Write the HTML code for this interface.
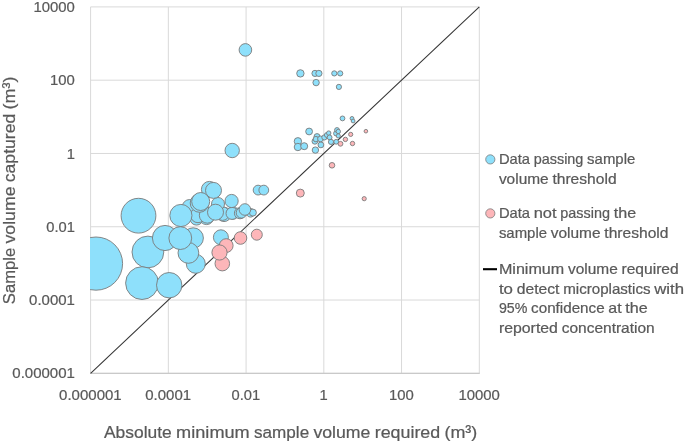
<!DOCTYPE html>
<html lang="en"><head><meta charset="utf-8"><title>Sample volume chart</title>
<style>html,body{margin:0;padding:0;background:#fff}svg{display:block}text{font-family:"Liberation Sans",sans-serif;fill:#595959;stroke:#595959;stroke-width:0.22px}</style></head><body>
<svg width="685" height="444" viewBox="0 0 685 444">
<rect width="685" height="444" fill="#fff"/>
<clipPath id="plot"><rect x="90.0" y="6.9" width="389.3" height="366.4"/></clipPath>
<g stroke="#d9d9d9" stroke-width="1" fill="none">
<line x1="90.60" y1="6.9" x2="90.60" y2="373.3"/>
<line x1="168.34" y1="6.9" x2="168.34" y2="373.3"/>
<line x1="246.08" y1="6.9" x2="246.08" y2="373.3"/>
<line x1="323.82" y1="6.9" x2="323.82" y2="373.3"/>
<line x1="401.56" y1="6.9" x2="401.56" y2="373.3"/>
<line x1="479.30" y1="6.9" x2="479.30" y2="373.3"/>
<line x1="90.6" y1="6.90" x2="479.3" y2="6.90"/>
<line x1="90.6" y1="80.18" x2="479.3" y2="80.18"/>
<line x1="90.6" y1="153.46" x2="479.3" y2="153.46"/>
<line x1="90.6" y1="226.74" x2="479.3" y2="226.74"/>
<line x1="90.6" y1="300.02" x2="479.3" y2="300.02"/>
<line x1="90.6" y1="373.30" x2="479.3" y2="373.30"/>
</g>
<line x1="90.1" y1="373.3" x2="479.8" y2="373.3" stroke="#c4c4c4" stroke-width="1"/>
<line x1="90.6" y1="373.3" x2="479.3" y2="6.9" stroke="#333" stroke-width="1.05"/>
<g clip-path="url(#plot)" stroke="#7b7b7b" stroke-width="0.9">
<circle cx="96" cy="263.6" r="26.6" fill="#8ee0fb"/>
<circle cx="138.5" cy="215.7" r="17.4" fill="#8ee0fb"/>
<circle cx="147.9" cy="252.0" r="15.9" fill="#8ee0fb"/>
<circle cx="142" cy="283.1" r="16.4" fill="#8ee0fb"/>
<circle cx="169.2" cy="285.2" r="12.7" fill="#8ee0fb"/>
<circle cx="165.0" cy="238.0" r="12.6" fill="#8ee0fb"/>
<circle cx="193.2" cy="238.0" r="10.2" fill="#8ee0fb"/>
<circle cx="195.8" cy="263.8" r="9.5" fill="#8ee0fb"/>
<circle cx="188.4" cy="252.9" r="10.4" fill="#8ee0fb"/>
<circle cx="180.3" cy="238.1" r="11.4" fill="#8ee0fb"/>
<circle cx="189.7" cy="207" r="7.5" fill="#8ee0fb"/>
<circle cx="209.4" cy="189.4" r="8" fill="#8ee0fb"/>
<circle cx="196.5" cy="218.5" r="6.6" fill="#8ee0fb"/>
<circle cx="206.5" cy="217.3" r="7.3" fill="#8ee0fb"/>
<circle cx="198" cy="215.2" r="7.5" fill="#8ee0fb"/>
<circle cx="207.3" cy="215.2" r="8" fill="#8ee0fb"/>
<circle cx="224" cy="214.4" r="7.2" fill="#8ee0fb"/>
<circle cx="222.5" cy="213.6" r="6.8" fill="#8ee0fb"/>
<circle cx="233" cy="213" r="6.2" fill="#8ee0fb"/>
<circle cx="232" cy="213.4" r="6" fill="#8ee0fb"/>
<circle cx="240" cy="213.2" r="5.6" fill="#8ee0fb"/>
<circle cx="241.5" cy="212.8" r="5.3" fill="#8ee0fb"/>
<circle cx="250.5" cy="212.8" r="4.3" fill="#8ee0fb"/>
<circle cx="252.9" cy="212.6" r="3.5" fill="#8ee0fb"/>
<circle cx="218" cy="204" r="6.5" fill="#8ee0fb"/>
<circle cx="199.5" cy="203" r="9.3" fill="#8ee0fb"/>
<circle cx="200.7" cy="201.5" r="9" fill="#8ee0fb"/>
<circle cx="213.5" cy="190.4" r="8" fill="#8ee0fb"/>
<circle cx="180.9" cy="215.5" r="11.1" fill="#8ee0fb"/>
<circle cx="215.5" cy="212.2" r="8" fill="#8ee0fb"/>
<circle cx="231.6" cy="201" r="6.6" fill="#8ee0fb"/>
<circle cx="244.9" cy="209.5" r="5.8" fill="#8ee0fb"/>
<circle cx="258.1" cy="190.1" r="4.9" fill="#8ee0fb"/>
<circle cx="263.8" cy="190.1" r="4.9" fill="#8ee0fb"/>
<circle cx="220.9" cy="237.3" r="7.5" fill="#8ee0fb"/>
<circle cx="245.4" cy="49.9" r="6.3" fill="#8ee0fb"/>
<circle cx="232.2" cy="150.5" r="7.2" fill="#8ee0fb"/>
<circle cx="297.9" cy="141.3" r="3.7" fill="#8ee0fb"/>
<circle cx="297.9" cy="147" r="3.7" fill="#8ee0fb"/>
<circle cx="304.2" cy="146.2" r="3.5" fill="#8ee0fb"/>
<circle cx="309.1" cy="131.5" r="3.4" fill="#8ee0fb"/>
<circle cx="315.4" cy="150.1" r="3.2" fill="#8ee0fb"/>
<circle cx="314.9" cy="141.3" r="2.9" fill="#8ee0fb"/>
<circle cx="317" cy="136.6" r="3.0" fill="#8ee0fb"/>
<circle cx="315.9" cy="139.1" r="2.7" fill="#8ee0fb"/>
<circle cx="320.5" cy="138.9" r="2.9" fill="#8ee0fb"/>
<circle cx="320.9" cy="144.9" r="2.9" fill="#8ee0fb"/>
<circle cx="324.4" cy="137.4" r="2.6" fill="#8ee0fb"/>
<circle cx="326.8" cy="135" r="2.4" fill="#8ee0fb"/>
<circle cx="328.7" cy="133.1" r="2.2" fill="#8ee0fb"/>
<circle cx="329.6" cy="137.4" r="2.4" fill="#8ee0fb"/>
<circle cx="331" cy="141.9" r="2.6" fill="#8ee0fb"/>
<circle cx="336.2" cy="141.8" r="2.4" fill="#8ee0fb"/>
<circle cx="336.2" cy="133.4" r="2.6" fill="#8ee0fb"/>
<circle cx="337" cy="130" r="2.4" fill="#8ee0fb"/>
<circle cx="338.3" cy="131.5" r="2.2" fill="#8ee0fb"/>
<circle cx="338.3" cy="135.9" r="2.1" fill="#8ee0fb"/>
<circle cx="342.5" cy="118.4" r="2.4" fill="#8ee0fb"/>
<circle cx="352" cy="118.4" r="1.9" fill="#8ee0fb"/>
<circle cx="353.1" cy="121" r="1.9" fill="#8ee0fb"/>
<circle cx="300.4" cy="73.4" r="3.7" fill="#8ee0fb"/>
<circle cx="315" cy="73.4" r="3.1" fill="#8ee0fb"/>
<circle cx="318.9" cy="73.4" r="3.1" fill="#8ee0fb"/>
<circle cx="316.1" cy="82.6" r="3.2" fill="#8ee0fb"/>
<circle cx="334.3" cy="73.4" r="2.6" fill="#8ee0fb"/>
<circle cx="340.2" cy="73.4" r="2.6" fill="#8ee0fb"/>
<circle cx="338.9" cy="86.9" r="2.6" fill="#8ee0fb"/>
<circle cx="226.2" cy="245.6" r="6.9" fill="#fdb6b9"/>
<circle cx="222.3" cy="263.6" r="7.3" fill="#fdb6b9"/>
<circle cx="219.5" cy="252.5" r="7.6" fill="#fdb6b9"/>
<circle cx="240.5" cy="238.0" r="6.3" fill="#fdb6b9"/>
<circle cx="256.8" cy="234.7" r="5.5" fill="#fdb6b9"/>
<circle cx="340.5" cy="143.8" r="2.4" fill="#fdb6b9"/>
<circle cx="345.4" cy="139.4" r="2.2" fill="#fdb6b9"/>
<circle cx="350.7" cy="134.4" r="2.1" fill="#fdb6b9"/>
<circle cx="352.5" cy="143.5" r="2.2" fill="#fdb6b9"/>
<circle cx="365.9" cy="131.2" r="1.8" fill="#fdb6b9"/>
<circle cx="332" cy="165.3" r="2.8" fill="#fdb6b9"/>
<circle cx="300.3" cy="193.1" r="4.0" fill="#fdb6b9"/>
<circle cx="364.2" cy="198.7" r="2.1" fill="#fdb6b9"/>
</g>
<g font-size="14.6">
<text x="74.9" y="12.00" text-anchor="end" textLength="41.4" lengthAdjust="spacingAndGlyphs">10000</text>
<text x="74.9" y="85.28" text-anchor="end" textLength="24.8" lengthAdjust="spacingAndGlyphs">100</text>
<text x="74.9" y="158.56" text-anchor="end" textLength="8.2" lengthAdjust="spacingAndGlyphs">1</text>
<text x="74.9" y="231.84" text-anchor="end" textLength="28.6" lengthAdjust="spacingAndGlyphs">0.01</text>
<text x="74.9" y="305.12" text-anchor="end" textLength="45.8" lengthAdjust="spacingAndGlyphs">0.0001</text>
<text x="74.9" y="378.40" text-anchor="end" textLength="62.6" lengthAdjust="spacingAndGlyphs">0.000001</text>
<text x="90.40" y="399.7" text-anchor="middle" textLength="62.6" lengthAdjust="spacingAndGlyphs">0.000001</text>
<text x="168.14" y="399.7" text-anchor="middle" textLength="45.8" lengthAdjust="spacingAndGlyphs">0.0001</text>
<text x="245.88" y="399.7" text-anchor="middle" textLength="28.6" lengthAdjust="spacingAndGlyphs">0.01</text>
<text x="323.62" y="399.7" text-anchor="middle" textLength="8.2" lengthAdjust="spacingAndGlyphs">1</text>
<text x="401.36" y="399.7" text-anchor="middle" textLength="24.8" lengthAdjust="spacingAndGlyphs">100</text>
<text x="479.10" y="399.7" text-anchor="middle" textLength="41.4" lengthAdjust="spacingAndGlyphs">10000</text>
</g>
<g font-size="16.9">
<text y="438.3"><tspan x="104.00" textLength="67.81" lengthAdjust="spacingAndGlyphs">Absolute</tspan> <tspan x="176.08" textLength="73.69" lengthAdjust="spacingAndGlyphs">minimum</tspan> <tspan x="254.05" textLength="55.12" lengthAdjust="spacingAndGlyphs">sample</tspan> <tspan x="313.44" textLength="57.00" lengthAdjust="spacingAndGlyphs">volume</tspan> <tspan x="374.71" textLength="65.49" lengthAdjust="spacingAndGlyphs">required</tspan> <tspan x="444.47" textLength="32.83" lengthAdjust="spacingAndGlyphs">(m³)</tspan></text>
<g transform="translate(15.1,304.2) rotate(-90)"><text y="0"><tspan x="0.00" textLength="56.41" lengthAdjust="spacingAndGlyphs">Sample</tspan> <tspan x="60.68" textLength="57.00" lengthAdjust="spacingAndGlyphs">volume</tspan> <tspan x="121.95" textLength="68.55" lengthAdjust="spacingAndGlyphs">captured</tspan> <tspan x="194.77" textLength="32.83" lengthAdjust="spacingAndGlyphs">(m³)</tspan></text></g>
</g>
<g stroke="#7b7b7b" stroke-width="0.8"><circle cx="490.3" cy="159.4" r="4.6" fill="#8ee0fb"/><circle cx="490.3" cy="213.4" r="4.6" fill="#fdb6b9"/></g>
<line x1="483" y1="269.2" x2="497" y2="269.2" stroke="#000" stroke-width="2.1"/>
<g font-size="14.6">
<text y="163.9"><tspan x="498.90" textLength="31.09" lengthAdjust="spacingAndGlyphs">Data</tspan> <tspan x="533.73" textLength="49.65" lengthAdjust="spacingAndGlyphs">passing</tspan> <tspan x="587.11" textLength="48.15" lengthAdjust="spacingAndGlyphs">sample</tspan></text>
<text y="184"><tspan x="498.90" textLength="49.79" lengthAdjust="spacingAndGlyphs">volume</tspan> <tspan x="552.43" textLength="64.15" lengthAdjust="spacingAndGlyphs">threshold</tspan></text>
<text y="217.5"><tspan x="498.90" textLength="31.09" lengthAdjust="spacingAndGlyphs">Data</tspan> <tspan x="533.73" textLength="22.87" lengthAdjust="spacingAndGlyphs">not</tspan> <tspan x="560.33" textLength="49.65" lengthAdjust="spacingAndGlyphs">passing</tspan> <tspan x="613.71" textLength="22.39" lengthAdjust="spacingAndGlyphs">the</tspan></text>
<text y="237.6"><tspan x="498.90" textLength="48.15" lengthAdjust="spacingAndGlyphs">sample</tspan> <tspan x="550.79" textLength="49.79" lengthAdjust="spacingAndGlyphs">volume</tspan> <tspan x="604.31" textLength="64.15" lengthAdjust="spacingAndGlyphs">threshold</tspan></text>
<text y="273.8"><tspan x="498.90" textLength="65.31" lengthAdjust="spacingAndGlyphs">Minimum</tspan> <tspan x="567.94" textLength="49.79" lengthAdjust="spacingAndGlyphs">volume</tspan> <tspan x="621.47" textLength="57.21" lengthAdjust="spacingAndGlyphs">required</tspan></text>
<text y="293.5"><tspan x="498.90" textLength="14.05" lengthAdjust="spacingAndGlyphs">to</tspan> <tspan x="516.68" textLength="42.81" lengthAdjust="spacingAndGlyphs">detect</tspan> <tspan x="563.23" textLength="87.28" lengthAdjust="spacingAndGlyphs">microplastics</tspan> <tspan x="654.24" textLength="29.74" lengthAdjust="spacingAndGlyphs">with</tspan></text>
<text y="313.2"><tspan x="498.90" textLength="28.49" lengthAdjust="spacingAndGlyphs">95%</tspan> <tspan x="531.12" textLength="73.50" lengthAdjust="spacingAndGlyphs">confidence</tspan> <tspan x="608.35" textLength="13.26" lengthAdjust="spacingAndGlyphs">at</tspan> <tspan x="625.35" textLength="22.39" lengthAdjust="spacingAndGlyphs">the</tspan></text>
<text y="333"><tspan x="498.90" textLength="59.03" lengthAdjust="spacingAndGlyphs">reported</tspan> <tspan x="561.67" textLength="93.05" lengthAdjust="spacingAndGlyphs">concentration</tspan></text>
</g>
</svg></body></html>
